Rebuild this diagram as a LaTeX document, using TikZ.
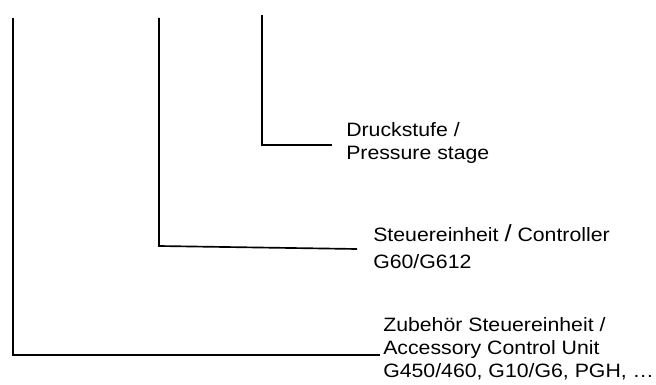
\documentclass[tikz,border=0pt]{standalone}
\usepackage{fontspec}
\setmainfont[FakeStretch=1.1]{Liberation Sans}

\begin{document}
\begin{tikzpicture}[x=0.75pt, y=-0.75pt, lead/.style={ line width=1.25pt },
    tag/.style={ anchor=north west, inner sep=0pt, align=left,
    font=\fontsize{14.5pt}{17.25pt}\selectfont } ]
  \useasboundingbox (0,0) rectangle (656,385);
  % upper ends of the three leads
  \foreach \n/\x/\y in {p/262/15,s/159/18,z/13/18}
  \coordinate (\n-top) at (\x,\y);
  \coordinate (p-end) at (332,145);
  \coordinate (s-bend) at (159,246);
  \coordinate (s-end) at (357,249);
  \coordinate (z-end) at (380,355);
  \node[tag] (druck) at (346,122) {Druckstufe /\\Pressure stage};
  \node[tag] (steuer) at (373,224) {Steuereinheit
    {\fontsize{17.5pt}{17.5pt}\selectfont/} Controller\\[3.5pt]G60/G612};
  \node[tag] (zubeh) at (383,317) {Zubehör Steuereinheit /\\Accessory
    Control Unit\\G450/460, G10/G6, PGH, …};
  \draw[lead] (p-top) |- (p-end);
  \draw[lead] (s-top) -- (s-bend) -- (s-end);
  \draw[lead] (z-top) |- (z-end);
\end{tikzpicture}
\end{document}
